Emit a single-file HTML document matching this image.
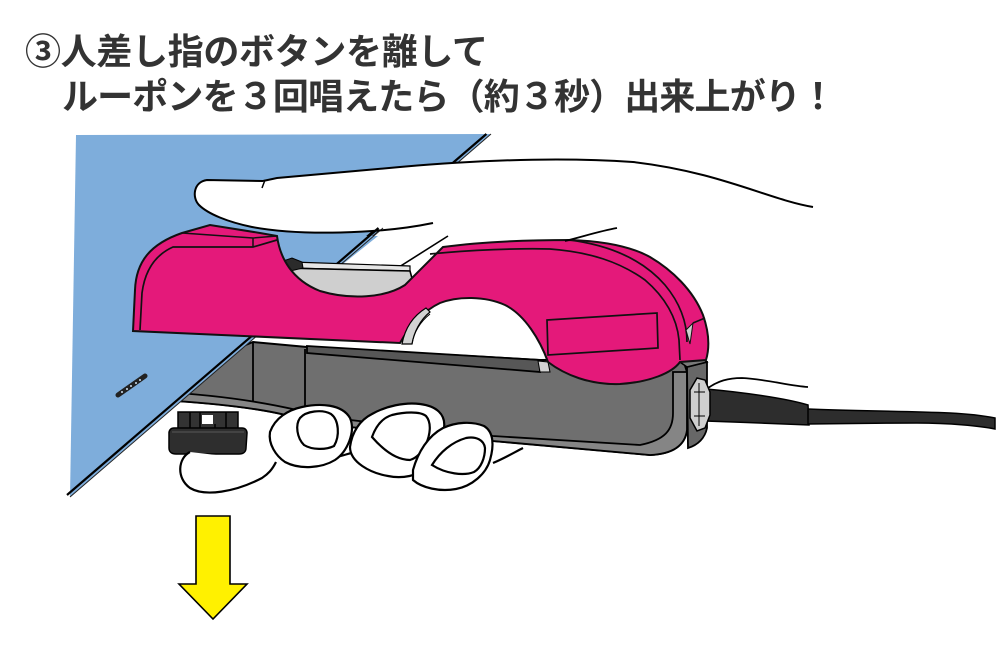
<!DOCTYPE html>
<html>
<head>
<meta charset="utf-8">
<style>
html,body{margin:0;padding:0;background:#fff;}
body{width:1000px;height:667px;overflow:hidden;}
svg{display:block;}
</style>
</head>
<body>
<svg width="1000" height="667" viewBox="0 0 1000 667" xmlns="http://www.w3.org/2000/svg">
<rect width="1000" height="667" fill="#fff"/>

<!-- Title text -->
<text x="25" y="64" textLength="463" lengthAdjust="spacing" font-family="'Liberation Sans','Noto Sans CJK JP',sans-serif" font-weight="bold" font-size="36" fill="#333">③人差し指のボタンを離して</text>
<text x="62" y="109" textLength="774" lengthAdjust="spacing" font-family="'Liberation Sans','Noto Sans CJK JP',sans-serif" font-weight="bold" font-size="36" fill="#333">ルーポンを３回唱えたら（約３秒）出来上がり！</text>

<!-- Gray base -->
<path d="M160,380 L253,342 L307,347 L540,360 L683,359 L687,372 L687,430 C685,446 672,454 650,455 L493,441 L350,427 L297,418 C270,410 230,404 160,400 Z" fill="#6f6f6f" stroke="#000" stroke-width="2"/>
<!-- lower lip -->
<path d="M160,392 C220,395 262,402 297,410 L350,420 L493,436 L640,445 C665,440 673,430 673,413 L673,372 L687,372 L687,430 C685,446 672,454 650,455 L493,441 L350,427 L297,418 C270,410 230,404 160,400 Z" fill="#858585" stroke="#000" stroke-width="1.8"/>
<!-- vertical lines -->
<path d="M253,343 L253,402 M305,349 L305,410" stroke="#000" stroke-width="1.8" fill="none"/>
<!-- rail -->
<path d="M307,346 L540,360 L540,372 L307,353 Z" fill="#575757" stroke="#000" stroke-width="1.8"/>
<path d="M538,361 L548,362 L550,372 L540,372 Z" fill="#d2d2d2" stroke="#000" stroke-width="1"/>

<!-- connector block -->
<path d="M687,367 L707,362 L707,428 C705,438 698,445 688,448 Z" fill="#676767" stroke="#000" stroke-width="1.8"/>
<path d="M677,360 L700,356 L707,362 L687,367 Z" fill="#7a7a7a" stroke="#000" stroke-width="1.5"/>

<!-- cord -->
<path d="M706,389 C740,392 785,398 808,405 L809,425 C780,424 740,422 706,421 Z" fill="#2d2d2d" stroke="#000" stroke-width="1.5"/>
<path d="M808,409 C850,411 900,411 950,413 C970,414 985,416 995,418 L995,429 C980,426 950,423 917,423 C880,423 840,424 808,424 Z" fill="#2d2d2d" stroke="#000" stroke-width="1.5"/>
<!-- nut -->
<path d="M697,378 L705,380 L710,392 L710,415 L705,428 L697,431 L690,418 L690,390 Z" fill="#cfcfcf" stroke="#000" stroke-width="1.5"/>
<path d="M699,383 L699,426 M694,392 L705,392 M694,416 L705,416" stroke="#000" stroke-width="1" fill="none"/>

<!-- Paper -->
<polygon points="76,135 491,134 70,497" fill="#7eaddb"/>
<line x1="491" y1="134" x2="70" y2="497" stroke="#222" stroke-width="1"/>
<line x1="486.4" y1="134" x2="67" y2="495" stroke="#000" stroke-width="2.2"/>
<!-- slot -->
<line x1="118" y1="395" x2="145" y2="376" stroke="#222" stroke-width="5" stroke-linecap="round"/>
<g fill="#cfe0f0">
<circle cx="122" cy="392" r="1"/><circle cx="127" cy="389" r="1"/><circle cx="131" cy="386" r="1"/><circle cx="136" cy="383" r="1"/><circle cx="140" cy="380" r="1"/>
</g>

<!-- Hand (top) -->
<path d="M820,200 L813,207 C770,200 720,172 633,162 C560,157 480,160 400,167 C340,172 300,176 277,178 L263,181 L207,180 C193,182 192,198 199,205 C208,214 228,222 252,227 C300,236 380,234 433,223 L440,232 L600,232 L617,228 L820,228 Z" fill="#fff"/>

<!-- paper visible in notch -->
<polygon points="255,236 378,236 298,300 255,300" fill="#7eaddb"/>
<line x1="383" y1="228" x2="296" y2="303" stroke="#222" stroke-width="1"/>
<line x1="378.5" y1="228" x2="291.5" y2="303" stroke="#000" stroke-width="2.2"/>

<path d="M813,207 C770,200 720,172 633,162 C560,157 480,160 400,167 C340,172 300,176 277,178 L263,181" fill="none" stroke="#000" stroke-width="2"/>
<path d="M263,181 L207,180 C193,182 192,198 199,205 C208,214 228,222 252,227 C300,236 380,234 433,223" fill="none" stroke="#000" stroke-width="2"/>
<path d="M265,180 L262,188" stroke="#000" stroke-width="1.5" fill="none"/>

<!-- notch contents: blade, pin, guide line -->
<path d="M388,274 L448,236" stroke="#000" stroke-width="1.6" fill="none"/>
<path d="M292,262 L410,266 L410,271 L292,268 Z" fill="#e6e6e6" stroke="#000" stroke-width="1.2"/>
<path d="M282,268 L410,271 L418,300 L282,300 Z" fill="#cfcfcf" stroke="#000" stroke-width="1.6"/>
<path d="M274,281 L272,270 L280,262 L292,258 L302,262 L303,268 L286,272 L281,283 Z" fill="#2b2b2b" stroke="#000" stroke-width="1"/>

<!-- Pink body -->
<path d="M133,331 L135,290 C136,262 150,244 182,233 L210,225 L260,233 L277,236 C280,258 292,280 320,291 C350,300 385,298 405,285 L443,247 C480,242 520,240 570,240 C600,241 630,246 650,257 C672,270 693,290 703,315 C710,335 709,350 706,360 L680,362 C672,373 650,382 620,384 C590,385 565,375 548,362 C540,340 525,315 505,305 C485,296 458,296 440,303 C425,310 410,325 400,343 Z" fill="#e4197a" stroke="#111" stroke-width="2"/>
<!-- pink details -->
<path d="M140,330 L142,293 C145,270 155,255 173,247 L253,247 L277,240" fill="none" stroke="#111" stroke-width="1.7"/>
<path d="M182,233 L253,238 L277,236 M253,238 L253,247" fill="none" stroke="#111" stroke-width="1.5"/>
<path d="M430,254 C470,250 520,248 550,249 C590,252 620,262 645,280 C665,297 677,318 679,340 L680,360" fill="none" stroke="#111" stroke-width="1.7"/>
<path d="M570,240 C615,246 645,262 665,285 C680,303 687,322 687,342" fill="none" stroke="#111" stroke-width="1.7"/>
<path d="M686,330 L693,323 L690,344 Z" fill="#d0d0d0" stroke="#111" stroke-width="1"/>
<path d="M693,323 L705,318" stroke="#111" stroke-width="1.5"/>
<polygon points="547,320 657,313 658,348 548,355" fill="none" stroke="#111" stroke-width="1.7"/>

<!-- hole strips -->
<path d="M402,344 C405,328 413,316 426,308 L430,312 C420,320 414,332 412,344 Z" fill="#d2d2d2" stroke="#000" stroke-width="1.2"/>
<path d="M412,344 C414,332 420,322 430,314" fill="none" stroke="#000" stroke-width="1"/>

<!-- hand underside lines -->
<path d="M565,241 C585,236 600,231 617,228" fill="none" stroke="#000" stroke-width="1.8"/>
<path d="M708,388 C718,381 728,378 742,378 C765,379 790,386 808,387" fill="none" stroke="#000" stroke-width="1.8"/>

<!-- Foot -->
<rect x="178" y="412" width="60" height="19" fill="#333" stroke="#000" stroke-width="1.5"/>
<rect x="202" y="415" width="11" height="9" fill="#fff"/>
<path d="M190,412 L190,431 M200,412 L200,431 M215,424 L215,431 M226,412 L226,431" stroke="#000" stroke-width="1.5"/>
<path d="M169,433 C169,430 171,428 174,428 L242,428 C245,428 247,430 247,433 L246,448 C246,452 243,454 239,454 L176,454 C172,454 169,452 169,448 Z" fill="#2e2e2e" stroke="#000" stroke-width="1.5"/>
<path d="M172,432 L244,432" stroke="#4a4a4a" stroke-width="1.5"/>

<!-- Lower fingers -->
<path d="M190,452 C178,458 176,478 190,488 C205,497 235,492 262,478 C268,474 272,470 276,462" fill="#fff" stroke="#000" stroke-width="2.2"/>
<path d="M493,463 C505,458 515,452 523,448" fill="none" stroke="#000" stroke-width="2.2"/>
<path d="M337,457 C345,455 350,453 356,452" fill="none" stroke="#000" stroke-width="2.2"/>
<!-- finger 1 -->
<path d="M270,432 C275,418 288,410 302,407 C320,403 342,404 350,418 C356,432 347,452 335,460 C322,468 300,470 285,462 C276,456 268,444 270,432 Z" fill="#fff" stroke="#000" stroke-width="2.2"/>
<path d="M300,418 C306,411 322,409 331,414 C339,420 340,436 334,446 C326,450 312,450 304,445 C297,438 295,425 300,418 Z" fill="#fff" stroke="#000" stroke-width="2.2"/>
<!-- finger 2 -->
<path d="M350,447 C352,432 360,420 372,414 C386,406 405,402 420,404 C436,406 446,414 444,428 C443,442 440,456 428,467 C418,476 402,479 388,476 C370,473 350,462 350,447 Z" fill="#fff" stroke="#000" stroke-width="2.2"/>
<path d="M372,437 C376,426 382,418 392,415 C404,412 420,411 426,416 C432,423 430,435 426,444 C422,452 417,458 410,460 C398,460 385,452 372,437 Z" fill="#fff" stroke="#000" stroke-width="2.2"/>
<!-- finger 3 -->
<path d="M413,470 C418,452 428,436 443,428 C456,422 472,421 484,426 C494,432 494,446 490,460 C486,474 472,486 456,489 C440,492 422,488 413,480 Z" fill="#fff" stroke="#000" stroke-width="2.2"/>
<path d="M432,465 C440,452 452,442 466,438 C476,436 484,440 485,448 C485,458 481,468 474,472 C464,476 446,474 432,465 Z" fill="#fff" stroke="#000" stroke-width="2.2"/>

<!-- Arrow -->
<polygon points="196,516 230,516 230,584 247,584 213,619 179,584 196,584" fill="#fff100" stroke="#000" stroke-width="1.6" stroke-linejoin="miter"/>
</svg>
</body>
</html>
